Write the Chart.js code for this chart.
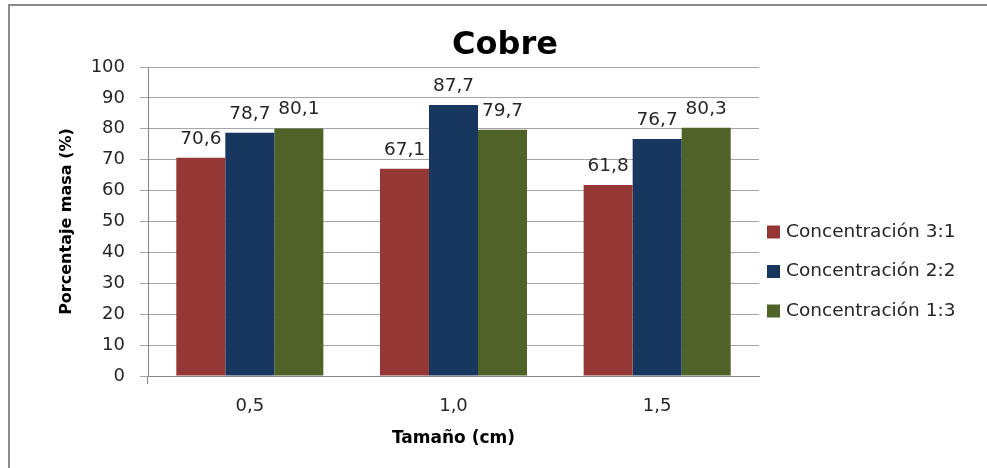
<!DOCTYPE html>
<html lang="es">
<head>
<meta charset="UTF-8">
<title>Cobre</title>
<script src="https://cdn.jsdelivr.net/npm/chart.js"></script>
<style>
  html, body { margin: 0; padding: 0; background: #fff; }
  #caja { width: 987px; height: 468px; position: relative; }
</style>
</head>
<body>
<div id="caja"><canvas id="grafico"></canvas></div>
<script>
// datos del gráfico
const titulo = 'Cobre';
const tamanos = ['0,5', '1,0', '1,5'];
const series = ['Concentración 3:1', 'Concentración 2:2', 'Concentración 1:3'];
const conc31 = [70.6, 67.1, 61.8];
const conc22 = [78.7, 87.7, 76.7];
const conc13 = [80.1, 79.7, 80.3];
const marcasY = [0, 10, 20, 30, 40, 50, 60, 70, 80, 90, 100];
const colores = ['#953735', '#17375E', '#4F6228'];

const fuente = 'DejaVu Sans';
const gris = '#868686';

// marco, título y leyenda dibujados a mano
const extras = {
  id: 'extras',
  beforeDraw(chart) {
    const ctx = chart.ctx;
    ctx.save();
    ctx.fillStyle = '#fff';
    ctx.fillRect(0, 0, chart.width, chart.height);
    ctx.strokeStyle = '#8a8a8a';
    ctx.lineWidth = 2;
    ctx.beginPath();
    ctx.moveTo(9, chart.height + 2);
    ctx.lineTo(9, 5);
    ctx.lineTo(chart.width + 2, 5);
    ctx.stroke();
    ctx.fillStyle = '#000';
    ctx.font = 'bold 32px "' + fuente + '"';
    ctx.textAlign = 'center';
    ctx.textBaseline = 'alphabetic';
    ctx.fillText(titulo, 505, 54);
    ctx.restore();
  },
  afterDatasetsDraw(chart) {
    const ctx = chart.ctx;
    ctx.save();
    ctx.fillStyle = '#262626';
    ctx.font = '18.5px "' + fuente + '"';
    ctx.textAlign = 'center';
    ctx.textBaseline = 'alphabetic';
    chart.data.datasets.forEach((ds, i) => {
      chart.getDatasetMeta(i).data.forEach((barra, j) => {
        ctx.fillText(ds.data[j].toFixed(1).replace('.', ','), barra.x, barra.y - 14);
      });
    });
    ctx.restore();
  },
  afterDraw(chart) {
    const ctx = chart.ctx;
    ctx.save();
    ctx.font = '18.5px "' + fuente + '"';
    ctx.textAlign = 'left';
    ctx.textBaseline = 'middle';
    chart.data.datasets.forEach((ds, i) => {
      const y = 232 + i * 39.5;
      ctx.fillStyle = ds.backgroundColor;
      ctx.fillRect(767, y - 6.5, 13, 13);
      ctx.fillStyle = '#262626';
      ctx.fillText(ds.label, 786, y);
    });
    ctx.restore();
  }
};

const valores = [conc31, conc22, conc13];

new Chart(document.getElementById('grafico'), {
  type: 'bar',
  data: {
    labels: tamanos,
    datasets: series.map((nombre, i) => ({
      label: nombre,
      data: valores[i],
      backgroundColor: colores[i],
      borderWidth: 0,
      categoryPercentage: 0.722,
      barPercentage: 1
    }))
  },
  options: {
    responsive: true,
    maintainAspectRatio: false,
    devicePixelRatio: 1,
    animation: false,
    layout: { padding: { top: 67, right: 228, bottom: 0, left: 0 } },
    plugins: {
      legend: { display: false },
      title: { display: false },
      tooltip: { enabled: false }
    },
    scales: {
      x: {
        ticks: { color: '#262626', font: { family: fuente, size: 18 }, padding: 12 },
        grid: {
          drawOnChartArea: false,
          tickLength: 8,
          color: c => (c.index === 0 || c.index === tamanos.length) ? gris : 'rgba(0,0,0,0)'
        },
        border: { color: gris },
        title: {
          display: true,
          text: 'Tamaño (cm)',
          color: '#000',
          font: { family: fuente, size: 17, weight: 'bold' },
          padding: { top: 0, bottom: 19 }
        },
        afterFit(s) { s.height = 92; }
      },
      y: {
        min: 0,
        max: 100,
        afterBuildTicks(s) { s.ticks = marcasY.map(v => ({ value: v })); },
        ticks: { color: '#262626', font: { family: fuente, size: 18 }, padding: 15 },
        grid: { color: '#a6a6a6', tickLength: 8 },
        border: { color: gris },
        title: {
          display: true,
          text: 'Porcentaje masa (%)',
          color: '#000',
          font: { family: fuente, size: 16, weight: 'bold' },
          padding: { top: 57, bottom: 0 }
        },
        afterFit(s) { s.width = 148; }
      }
    }
  },
  plugins: [extras]
});
</script>
</body>
</html>
